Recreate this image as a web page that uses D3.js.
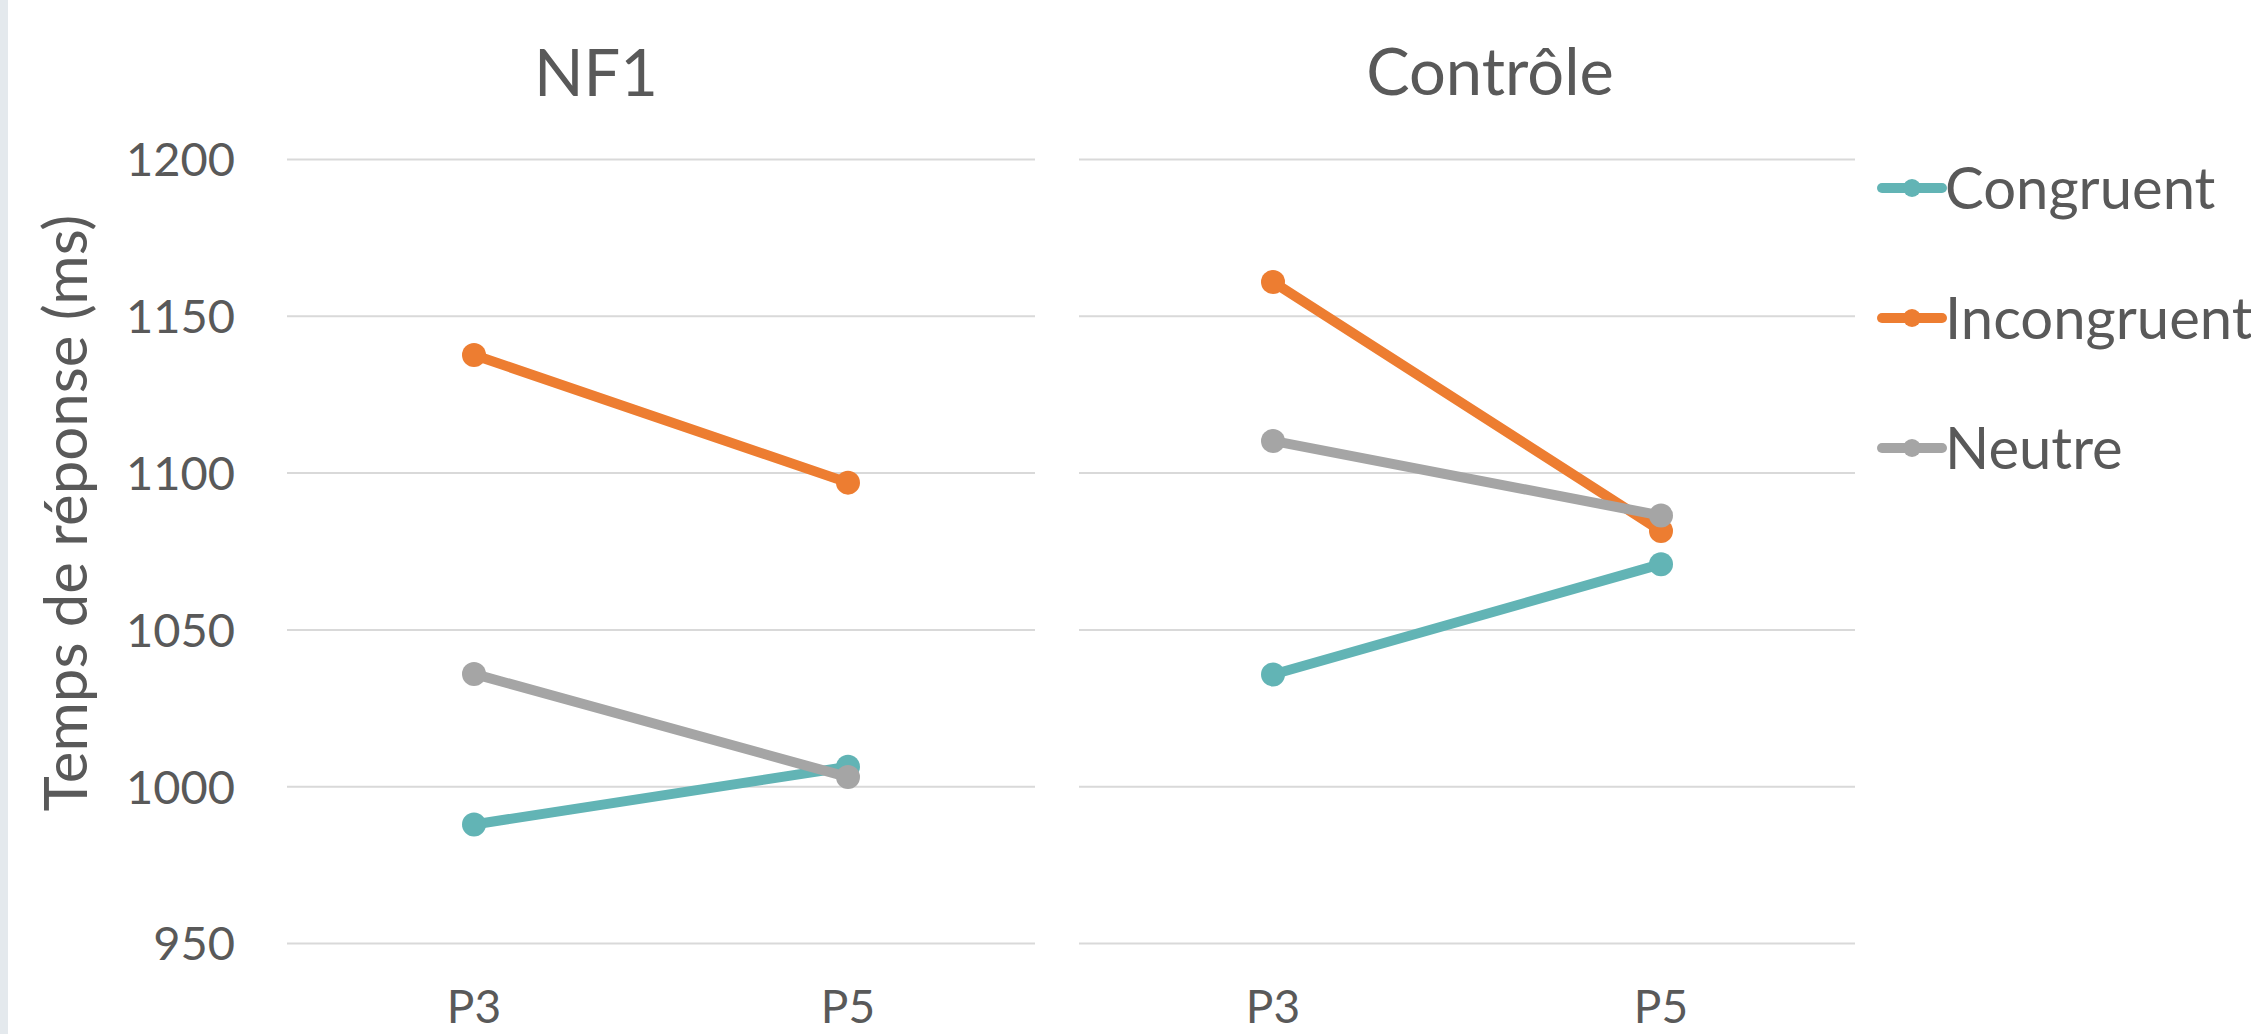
<!DOCTYPE html>
<html lang="fr">
<head>
<meta charset="utf-8">
<style>
  body { margin: 0; background: #ffffff; }
  svg { display: block; font-family: Lato, "Open Sans", sans-serif; }
  .tick text { fill: #595959; }
</style>
<title>Temps de réponse</title>
</head>
<body>
<script src="https://d3js.org/d3.v7.min.js"></script>
<script>
// data
var categories = ["P3", "P5"];
var panelNames = ["NF1", "Contrôle"];
var seriesNames = ["Congruent", "Incongruent", "Neutre"];
var seriesColors = ["#62b4b5", "#ed7d31", "#a5a5a5"];
var yTicks = [950, 1000, 1050, 1100, 1150, 1200];

var nf1Congruent = [987.8, 1006.2];
var nf1Incongruent = [1137.5, 1096.8];
var nf1Neutre = [1035.8, 1002.9];

var controleCongruent = [1035.6, 1070.8];
var controleIncongruent = [1160.8, 1081.4];
var controleNeutre = [1110.1, 1086.3];

var panelValues = [
  [nf1Congruent, nf1Incongruent, nf1Neutre],
  [controleCongruent, controleIncongruent, controleNeutre]
];

var W = 2251, H = 1034;
var textColor = "#595959";

var svg = d3.select("body").append("svg")
    .attr("width", W)
    .attr("height", H);

// thin grey strip at the very left edge
svg.append("rect").attr("x", 0).attr("y", 0).attr("width", 8).attr("height", H).attr("fill", "#e4e9ed");

var y = d3.scaleLinear().domain([950, 1200]).range([943, 159]);

// each panel has its own plotting width
var panels = [
  {x0: 287, x1: 1035, titleX: 596, titleY: 96},
  {x0: 1079, x1: 1855, titleX: 1490, titleY: 95}
];

panels.forEach(function(p, pi) {
  var x = d3.scaleBand().domain(categories).range([p.x0, p.x1]);
  var cx = function(c) { return x(c) + x.bandwidth() / 2; };
  var g = svg.append("g");

  // gridlines
  g.append("g")
    .attr("transform", "translate(" + p.x0 + ",0)")
    .call(d3.axisLeft(y).tickValues(yTicks).tickSize(-(p.x1 - p.x0)).tickFormat(""))
    .call(function(s) {
      s.select(".domain").remove();
      s.selectAll(".tick line").attr("stroke", "#d9d9d9").attr("stroke-width", 2);
    });

  // y labels only on the first panel
  if (pi === 0) {
    g.append("g")
      .attr("transform", "translate(" + p.x0 + ",0)")
      .call(d3.axisLeft(y).tickValues(yTicks).tickSize(0).tickPadding(52).tickFormat(d3.format("d")))
      .call(function(s) {
        s.select(".domain").remove();
        s.selectAll(".tick text")
          .attr("font-size", 47)
          .attr("font-family", "Lato")
          .attr("dy", "0.36em");
      });
  }

  // x labels
  g.append("g")
    .attr("transform", "translate(0," + y(950) + ")")
    .call(d3.axisBottom(x).tickSize(0).tickPadding(47))
    .call(function(s) {
      s.select(".domain").remove();
      s.selectAll(".tick text")
        .attr("font-size", 46)
        .attr("font-family", "Lato")
        .attr("dy", "0.71em");
    });

  // panel title
  svg.append("text")
    .attr("x", p.titleX)
    .attr("y", p.titleY)
    .attr("text-anchor", "middle")
    .attr("font-size", 65)
    .attr("fill", textColor)
    .text(panelNames[pi]);

  // lines and markers
  var line = d3.line()
    .x(function(d, i) { return cx(categories[i]); })
    .y(function(d) { return y(d); });

  panelValues[pi].forEach(function(vals, si) {
    var sg = g.append("g");
    sg.append("path")
      .datum(vals)
      .attr("d", line)
      .attr("fill", "none")
      .attr("stroke", seriesColors[si])
      .attr("stroke-width", 10)
      .attr("stroke-linecap", "round");
    sg.selectAll("circle")
      .data(vals)
      .enter().append("circle")
      .attr("cx", function(d, i) { return cx(categories[i]); })
      .attr("cy", function(d) { return y(d); })
      .attr("r", 12)
      .attr("fill", seriesColors[si]);
  });
});

// y axis title
svg.append("text")
  .attr("transform", "translate(87,513) rotate(-90)")
  .attr("text-anchor", "middle")
  .attr("font-size", 60)
  .attr("fill", textColor)
  .text("Temps de réponse (ms)");

// legend
var legend = svg.append("g").attr("transform", "translate(1882,188)");
var rows = legend.selectAll("g")
  .data(seriesNames)
  .enter().append("g")
  .attr("transform", function(d, i) { return "translate(0," + i * 130 + ")"; });

rows.append("line")
  .attr("x1", 0).attr("x2", 60)
  .attr("stroke", function(d, i) { return seriesColors[i]; })
  .attr("stroke-width", 10)
  .attr("stroke-linecap", "round");
rows.append("circle")
  .attr("cx", 30)
  .attr("r", 9)
  .attr("fill", function(d, i) { return seriesColors[i]; });
rows.append("text")
  .attr("x", 63)
  .attr("dy", "0.36em")
  .attr("font-size", 58)
  .attr("fill", textColor)
  .text(function(d) { return d; });
</script>
</body>
</html>
